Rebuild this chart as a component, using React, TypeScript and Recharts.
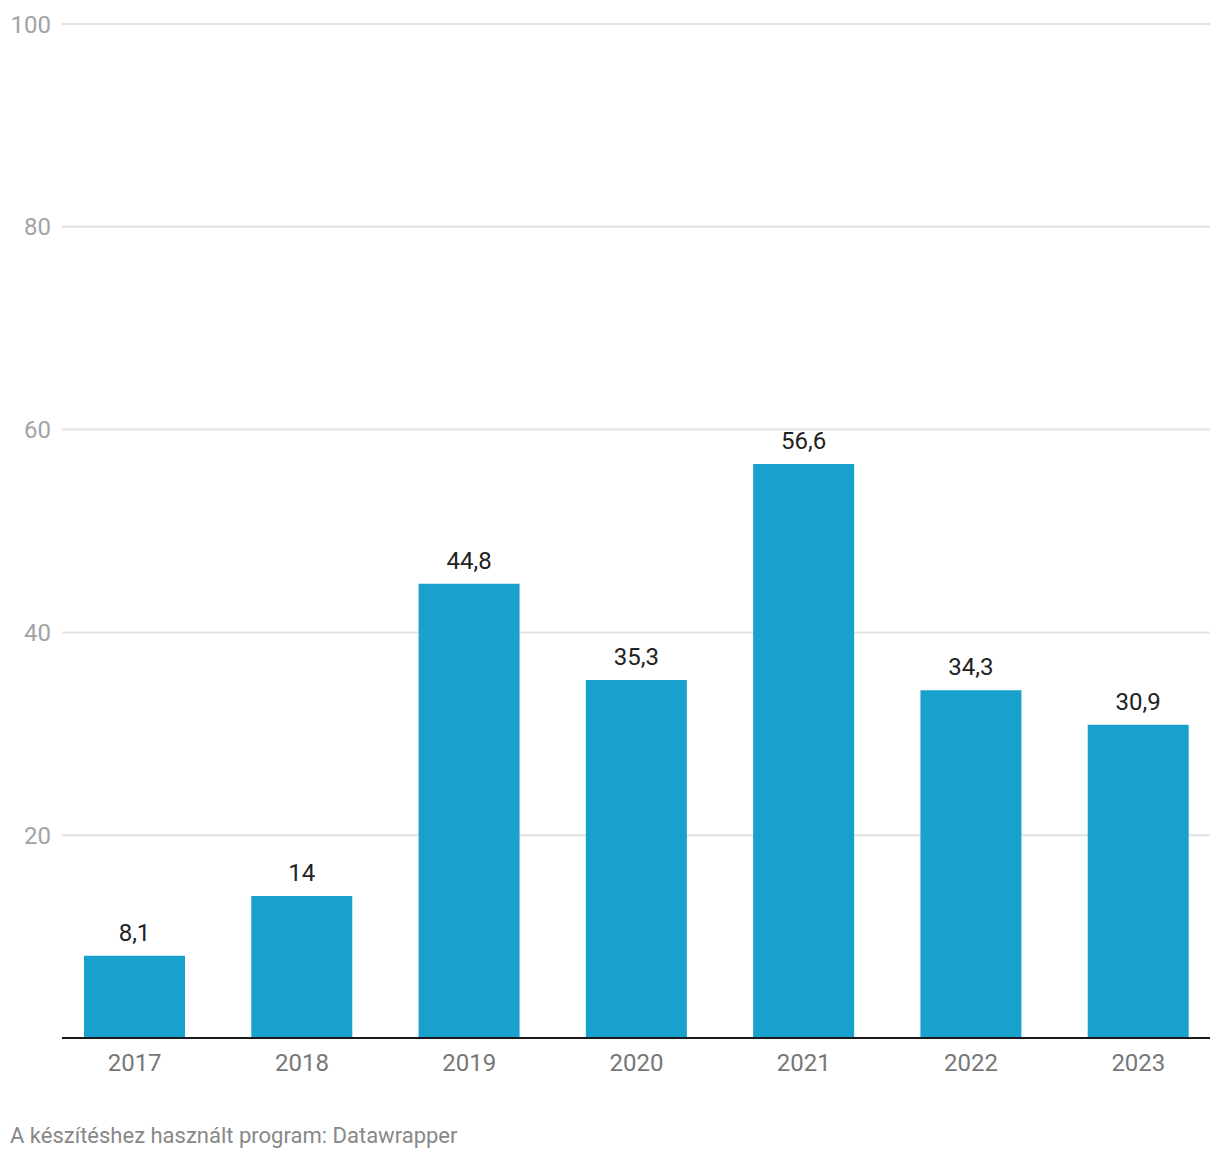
import { FC } from 'react';
import {
    BarChart,
    Bar,
    XAxis,
    YAxis,
    CartesianGrid,
    LabelList,
} from 'recharts';

const years = ['2017', '2018', '2019', '2020', '2021', '2022', '2023'];
const values = [8.1, 14, 44.8, 35.3, 56.6, 34.3, 30.9];
const yTicks = [20, 40, 60, 80, 100];
const footer = 'A készítéshez használt program: Datawrapper';

const data = years.map((year, i) => ({ year, value: values[i] }));

const FONT = 'Roboto, "Noto Sans", sans-serif';

const formatValue = (v: number) => String(v).replace('.', ',');

const YTick = (props: any) => {
    const { x, y, payload } = props;
    return (
        <text
            x={x - 3}
            y={y + 8.5}
            textAnchor='end'
            fill='#a3a3a3'
            fontSize={24}
            fontFamily={FONT}
        >
            {payload.value}
        </text>
    );
};

const XTick = (props: any) => {
    const { x, y, payload } = props;
    return (
        <text
            x={x}
            y={y + 25}
            textAnchor='middle'
            fill='#777777'
            fontSize={24}
            fontFamily={FONT}
        >
            {payload.value}
        </text>
    );
};

const App: FC = () => {
    return (
        <div
            style={{
                position: 'absolute',
                left: 0,
                top: 0,
                width: 1220,
                height: 1160,
                background: '#fff',
            }}
        >
            <BarChart
                width={1220}
                height={1160}
                data={data}
                margin={{ top: 24, right: 10, left: 0, bottom: 92 }}
                barSize={101}
            >
                <CartesianGrid
                    vertical={false}
                    stroke='#e3e3e3'
                    strokeWidth={2}
                />
                <XAxis
                    dataKey='year'
                    height={30}
                    padding={{ left: -11, right: -12 }}
                    axisLine={{ stroke: '#1a1a1a', strokeWidth: 2 }}
                    tickLine={false}
                    tick={<XTick />}
                    interval={0}
                />
                <YAxis
                    width={62}
                    domain={[0, 100]}
                    ticks={yTicks}
                    axisLine={false}
                    tickLine={false}
                    tick={<YTick />}
                />
                <Bar dataKey='value' fill='#18a1cd' isAnimationActive={false}>
                    <LabelList
                        dataKey='value'
                        position='top'
                        offset={15}
                        formatter={(v: any) => formatValue(Number(v))}
                        fill='#222222'
                        fontSize={24}
                        fontFamily={FONT}
                    />
                </Bar>
            </BarChart>
            <div
                style={{
                    position: 'absolute',
                    left: 10,
                    top: 1123,
                    fontFamily: FONT,
                    fontSize: 22,
                    color: '#888888',
                    whiteSpace: 'nowrap',
                }}
            >
                {footer}
            </div>
        </div>
    );
};

export default App;
